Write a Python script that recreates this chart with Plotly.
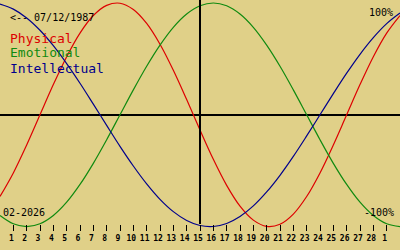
import plotly.graph_objects as go

# Day index: 0 = Jan 31, 1..28 = Feb 1..28, 29 = Mar 1, 30 = Mar 2
DAYS = [0, 1, 2, 3, 4, 5, 6, 7, 8, 9, 10, 11, 12, 13, 14, 15,
        16, 17, 18, 19, 20, 21, 22, 23, 24, 25, 26, 27, 28, 29, 30]

PHYSICAL = [-0.731, -0.520, -0.270, 0.000, 0.270, 0.520, 0.731, 0.888, 0.979, 0.998,
            0.942, 0.817, 0.631, 0.398, 0.136, -0.136, -0.398, -0.631, -0.817, -0.942,
            -0.998, -0.979, -0.888, -0.731, -0.520, -0.270, 0.000, 0.270, 0.520, 0.731,
            0.888]
EMOTIONAL = [-0.901, -0.975, -1.000, -0.975, -0.901, -0.782, -0.623, -0.434, -0.223, 0.000,
             0.223, 0.434, 0.623, 0.782, 0.901, 0.975, 1.000, 0.975, 0.901, 0.782,
             0.623, 0.434, 0.223, 0.000, -0.223, -0.434, -0.623, -0.782, -0.901, -0.975,
             -1.000]
INTELLECTUAL = [0.990, 0.945, 0.866, 0.756, 0.618, 0.458, 0.282, 0.095, -0.095, -0.282,
                -0.458, -0.618, -0.756, -0.866, -0.945, -0.990, -0.999, -0.972, -0.910, -0.815,
                -0.690, -0.541, -0.372, -0.189, 0.000, 0.189, 0.372, 0.541, 0.690, 0.815,
                0.910]

TICK_DAYS = [1, 2, 3, 4, 5, 6, 7, 8, 9, 10, 11, 12, 13, 14, 15, 16, 17, 18, 19, 20,
             21, 22, 23, 24, 25, 26, 27, 28, 29]
TICK_LABELS = ["1", "2", "3", "4", "5", "6", "7", "8", "9", "10", "11", "12", "13", "14",
               "15", "16", "17", "18", "19", "20", "21", "22", "23", "24", "25", "26",
               "27", "28", "1"]
TODAY = 15

BIRTH_TEXT = "<-- 07/12/1987"
MONTH_TEXT = "02-2026"
SERIES_NAMES = ["Physical", "Emotional", "Intellectual"]

BG = "#e0d088"
RED = "#dd0000"
GREEN = "#108a10"
BLUE = "#00008c"
MONO = "DejaVu Sans Mono"

W, H = 400, 250
CENTER, AMP = 114.8, 111.8
y_top = CENTER / AMP
y_bot = (CENTER - H) / AMP
AXIS_Y = 1 - 224 / H

fig = go.Figure()
for name, vals, col in zip(SERIES_NAMES, [PHYSICAL, EMOTIONAL, INTELLECTUAL], [RED, GREEN, BLUE]):
    fig.add_trace(go.Scatter(x=DAYS, y=vals, mode="lines", name=name,
                             line=dict(color=col, width=1.2, shape="spline"),
                             hoverinfo="skip"))

fig.add_shape(type="line", xref="x", yref="paper", x0=TODAY, x1=TODAY, y0=AXIS_Y, y1=1,
              line=dict(color="black", width=2), layer="above")


def px_ann(text, px, py, color="black", size=10, anchor="left"):
    fig.add_annotation(text=text, xref="paper", yref="paper", x=px / W, y=1 - py / H,
                       xanchor=anchor, yanchor="middle", showarrow=False, borderpad=0,
                       font=dict(family=MONO, size=size, color=color))


px_ann(BIRTH_TEXT, 9, 17, size=10)
px_ann(SERIES_NAMES[0], 9, 38, color=RED, size=13)
px_ann(SERIES_NAMES[1], 9, 53, color=GREEN, size=13)
px_ann(SERIES_NAMES[2], 9, 68.5, color=BLUE, size=13)
px_ann("100%", 394, 12, size=10, anchor="right")
px_ann("-100%", 395, 212, size=10, anchor="right")
px_ann(MONTH_TEXT, 2, 212, size=10)

fig.update_layout(
    width=W, height=H, margin=dict(l=0, r=0, t=0, b=0),
    paper_bgcolor=BG, plot_bgcolor=BG, showlegend=False, template="none",
    xaxis=dict(range=[0, 30], anchor="free", position=AXIS_Y, showgrid=False,
               zeroline=False, showline=False, ticks="outside", ticklen=6, tickwidth=1,
               tickcolor="black", tickvals=TICK_DAYS, ticktext=TICK_LABELS,
               tickfont=dict(family=MONO, size=8, color="black", weight="bold"),
               ticklabelshift=-2, automargin=False, fixedrange=True),
    yaxis=dict(range=[y_bot, y_top], showgrid=False, showticklabels=False, ticks="",
               zeroline=True, zerolinecolor="black", zerolinewidth=2, showline=False,
               automargin=False, fixedrange=True),
)

fig.write_html("out.html")
